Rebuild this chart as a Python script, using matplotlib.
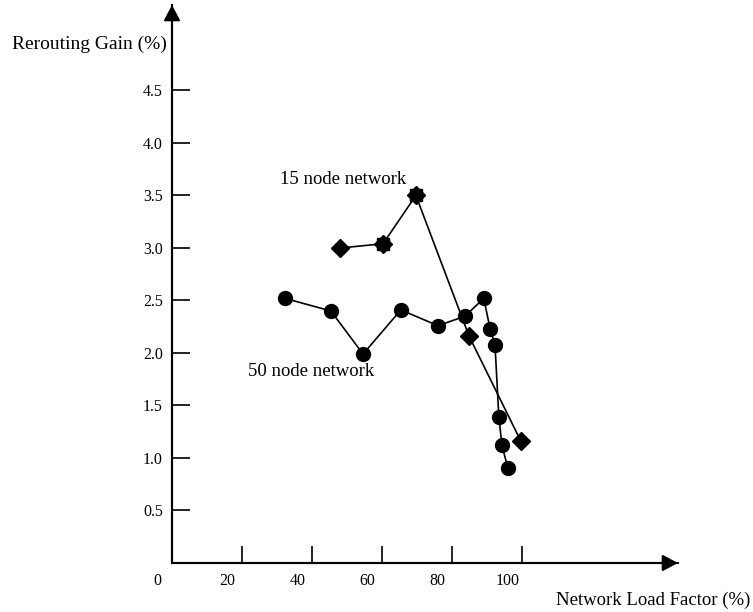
import matplotlib.pyplot as plt
from matplotlib.transforms import ScaledTranslation

plt.rcParams["font.family"] = ["Liberation Serif", "DejaVu Serif"]

# 15 node network
load_15 = [48.0, 60.3, 69.7, 84.9, 99.7]
gain_15 = [3.00, 3.04, 3.50, 2.16, 1.16]
star_idx = [1, 2]  # points drawn with a star-like marker

# 50 node network
load_50 = [32.3, 45.4, 54.6, 65.4, 76.0, 83.7, 89.1, 90.9, 92.3, 93.4, 94.3, 96.0]
gain_50 = [2.52, 2.40, 1.99, 2.41, 2.26, 2.35, 2.52, 2.23, 2.08, 1.39, 1.12, 0.90]

x_ticks = [0, 20, 40, 60, 80, 100]
y_ticks = [0.5, 1.0, 1.5, 2.0, 2.5, 3.0, 3.5, 4.0, 4.5]

fig = plt.figure(figsize=(7.53, 6.12), dpi=100)
ax = fig.add_axes([172 / 753, 49 / 612, 506 / 753, 558 / 612])
ax.set_xlim(0, 144.6)
ax.set_ylim(0, 5.314)

for s in ["top", "right"]:
    ax.spines[s].set_visible(False)
for s in ["left", "bottom"]:
    ax.spines[s].set_linewidth(1.5)

# axis arrows
arrow = dict(arrowstyle="-|>,head_length=0.47,head_width=0.25", color="black",
             lw=1.5, mutation_scale=20, shrinkA=0, shrinkB=0)
ax.annotate("", xy=(1, 0), xytext=(0, 0), xycoords="axes fraction", arrowprops=arrow,
            annotation_clip=False)
ax.annotate("", xy=(0, 1), xytext=(0, 0), xycoords="axes fraction", arrowprops=arrow,
            annotation_clip=False)

ax.plot(load_50, gain_50, color="black", lw=1.2, marker="o", markersize=10, zorder=3)
ax.plot(load_15, gain_15, color="black", lw=1.2, marker="D", markersize=9.5, zorder=3)
ax.plot([load_15[i] for i in star_idx], [gain_15[i] for i in star_idx], ls="none",
        marker="s", markersize=8, color="black", zorder=4)

ax.set_xticks(x_ticks)
ax.set_xticklabels([str(v) for v in x_ticks])
ax.set_yticks(y_ticks)
ax.set_yticklabels([f"{v:.1f}" for v in y_ticks])
ax.tick_params(axis="x", direction="in", length=12, width=1.2, pad=7, labelsize=11.5)
ax.tick_params(axis="y", direction="in", length=13, width=1.2, pad=6.5, labelsize=11.5)
shift = ScaledTranslation(-0.145, 0, fig.dpi_scale_trans)
for lab in ax.get_xticklabels():
    lab.set_transform(lab.get_transform() + shift)

ax.text(30.9, 3.65, "15 node network", fontsize=13.5, ha="left", va="center")
ax.text(21.7, 1.82, "50 node network", fontsize=13.5, ha="left", va="center")

fig.text(12 / 753, 1 - 44 / 612, "Rerouting Gain (%)", fontsize=14, ha="left", va="center")
fig.text(750 / 753, 1 - 600 / 612, "Network Load Factor (%)", fontsize=13.5,
         ha="right", va="center")

fig.savefig("out.png", dpi=100)
